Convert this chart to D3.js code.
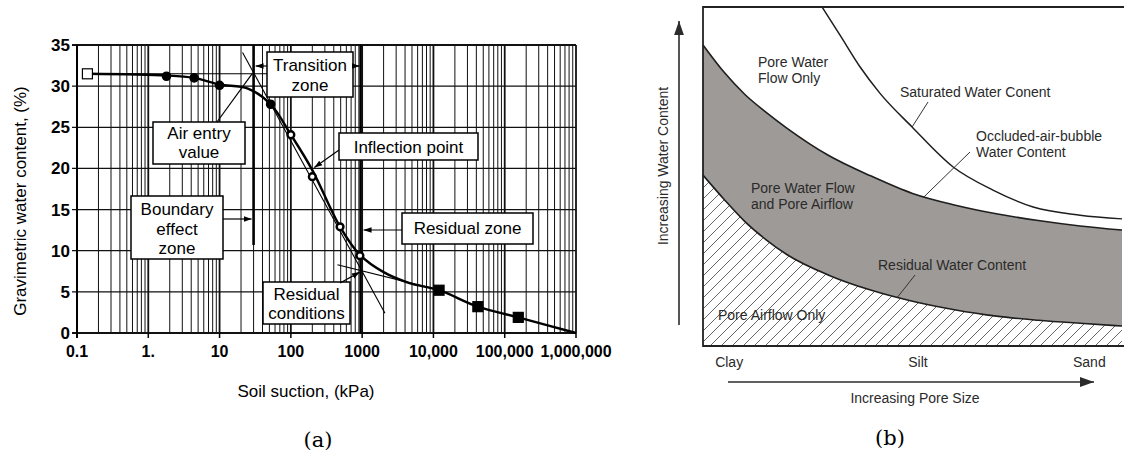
<!DOCTYPE html>
<html>
<head>
<meta charset="utf-8">
<script src="https://cdn.jsdelivr.net/npm/d3@7"></script>
<style>
  body { margin: 0; background: #fff; }
  svg { display: block; }
</style>
</head>
<body>
<svg id="chart" width="1124" height="455"></svg>
<script>
// ---------- panel (a): soil-water characteristic curve ----------
const suction      = [0.14, 1.8, 4.4, 10, 52, 100, 200, 490, 930, 12000, 42000, 155000];
const waterContent = [31.5, 31.2, 31.0, 30.1, 27.8, 24.1, 19.0, 12.9, 9.4, 5.2, 3.2, 1.9];
const markerType   = ["openSquare", "dot", "dot", "dot", "dot", "ring", "ring", "ring", "ring", "square", "square", "square"];

// drawn curve through the test points
const curveSuction = [0.14, 1.8, 4.4, 10, 25, 52, 100, 200, 490, 930, 2000, 4500, 12000, 42000, 155000, 1000000];
const curveWater   = [31.5, 31.3, 31.0, 30.2, 29.7, 27.8, 24.1, 19.8, 12.9, 9.5, 7.4, 6.1, 5.2, 3.2, 1.9, 0];

// construction (tangent) lines: [suction, water] pairs
const tangentSat      = [[0.14, 31.5], [60, 31.5]];
const tangentSteep    = [[21, 34.1], [2090, 2.4]];
const tangentResidual = [[450, 8.3], [11000, 5.3]];

const yTicks = [0, 5, 10, 15, 20, 25, 30, 35];
const xTickValues = [0.1, 1, 10, 100, 1000, 10000, 100000, 1000000];
const xTickLabels = ["0.1", "1.", "10", "100", "1000", "10,000", "100,000", "1,000,000"];

// ---------- panel (b): water content vs pore size ----------
const poreSize    = [0, 0.5, 1, 1.5, 2, 3, 4, 5, 6, 7, 8, 9, 10];
const occludedWC  = [8.88, 8.08, 7.42, 6.90, 6.43, 5.62, 5.02, 4.50, 4.16, 3.90, 3.70, 3.54, 3.42];
const residualWC  = [5.04, 4.33, 3.67, 3.14, 2.70, 2.09, 1.65, 1.32, 1.07, 0.88, 0.76, 0.67, 0.59];
const satPoreSize = [2.84, 3.27, 3.75, 4.22, 4.99, 5.97, 6.92, 7.88, 9.0, 10];
const saturatedWC = [10, 9.17, 8.23, 7.46, 6.46, 5.28, 4.60, 4.10, 3.86, 3.75];
const soilTypes   = ["Clay", "Silt", "Sand"];
const soilPos     = [0.29, 5.13, 8.83];
const soilAnchor  = ["start", "middle", "start"];

const svg = d3.select("#chart");
const defs = svg.append("defs");

function arrowMarker(id, size, color) {
  defs.append("marker")
    .attr("id", id)
    .attr("viewBox", "0 0 10 10")
    .attr("refX", 10).attr("refY", 5)
    .attr("markerWidth", size).attr("markerHeight", size)
    .attr("markerUnits", "userSpaceOnUse")
    .attr("orient", "auto")
    .append("path")
    .attr("d", "M0,1.5 L10,5 L0,8.5 Z")
    .attr("fill", color);
}
arrowMarker("arrA", 8, "#000");
arrowMarker("arrB", 14, "#2b2b2b");

// =============== PANEL A ===============
const x = d3.scaleLog().domain([0.1, 1e6]).range([77, 576]);
const y = d3.scaleLinear().domain([0, 35]).range([333, 45]);

const ga = svg.append("g").attr("class", "panel-a");

// vertical grid: every 1..9 x decade
let vLines = [];
for (let k = -1; k <= 5; k++) {
  for (let n = 1; n <= 9; n++) vLines.push({v: n * Math.pow(10, k), major: n === 1});
}
vLines.push({v: 1e6, major: true});

ga.append("g").selectAll("line")
  .data(vLines)
  .join("line")
  .attr("x1", d => x(d.v)).attr("x2", d => x(d.v))
  .attr("y1", y(35)).attr("y2", y(0))
  .attr("stroke", "#111")
  .attr("stroke-width", d => d.major ? 1.8 : 1);

ga.append("g").selectAll("line")
  .data(yTicks)
  .join("line")
  .attr("x1", x(0.1) - 5).attr("x2", x(1e6))
  .attr("y1", d => y(d)).attr("y2", d => y(d))
  .attr("stroke", "#111")
  .attr("stroke-width", d => d === 0 || d === 35 ? 2 : 1.3);

// left axis line
ga.append("line")
  .attr("x1", x(0.1)).attr("x2", x(0.1))
  .attr("y1", y(35)).attr("y2", y(0) + 5)
  .attr("stroke", "#000").attr("stroke-width", 2);

// x tick marks
ga.append("g").selectAll("line")
  .data(vLines.filter(d => d.major))
  .join("line")
  .attr("x1", d => x(d.v)).attr("x2", d => x(d.v))
  .attr("y1", y(0)).attr("y2", y(0) + 5)
  .attr("stroke", "#000").attr("stroke-width", 1.5);

// zone boundaries
ga.append("line")
  .attr("x1", x(30)).attr("x2", x(30))
  .attr("y1", y(35)).attr("y2", y(10.7))
  .attr("stroke", "#000").attr("stroke-width", 2.6);
ga.append("line")
  .attr("x1", x(950)).attr("x2", x(950))
  .attr("y1", y(35)).attr("y2", y(0))
  .attr("stroke", "#000").attr("stroke-width", 2.4);

// tick labels
ga.append("g").selectAll("text")
  .data(yTicks)
  .join("text")
  .attr("x", x(0.1) - 7).attr("y", d => y(d) + 6)
  .attr("text-anchor", "end")
  .style("font", "bold 17px 'Liberation Sans', Arial, sans-serif")
  .text(d => d);

ga.append("g").selectAll("text")
  .data(xTickValues)
  .join("text")
  .attr("x", d => x(d)).attr("y", 357)
  .attr("text-anchor", "middle")
  .style("font", "bold 16px 'Liberation Sans', Arial, sans-serif")
  .text((d, i) => xTickLabels[i]);

// axis titles
ga.append("text")
  .attr("x", 306).attr("y", 397)
  .attr("text-anchor", "middle")
  .style("font", "17px 'Liberation Sans', Arial, sans-serif")
  .text("Soil suction, (kPa)");

ga.append("text")
  .attr("transform", "translate(26,201) rotate(-90)")
  .attr("text-anchor", "middle")
  .style("font", "17px 'Liberation Sans', Arial, sans-serif")
  .text("Gravimetric water content, (%)");

// tangent lines
const seg = d3.line().x(d => x(d[0])).y(d => y(d[1]));
[tangentSat, tangentSteep, tangentResidual].forEach(t => {
  ga.append("path").attr("d", seg(t))
    .attr("fill", "none").attr("stroke", "#000").attr("stroke-width", 1.1);
});

// the curve
const curvePts = curveSuction.map((s, i) => [s, curveWater[i]]);
ga.append("path")
  .datum(curvePts)
  .attr("d", d3.line().x(d => x(d[0])).y(d => y(d[1])).curve(d3.curveCatmullRom))
  .attr("fill", "none").attr("stroke", "#000").attr("stroke-width", 2.4);

// markers
const pts = suction.map((s, i) => ({s: s, w: waterContent[i], t: markerType[i]}));
ga.append("g").selectAll("rect")
  .data(pts.filter(d => d.t === "openSquare" || d.t === "square"))
  .join("rect")
  .attr("x", d => x(d.s) - 5).attr("y", d => y(d.w) - 5)
  .attr("width", 10).attr("height", 10)
  .attr("fill", d => d.t === "square" ? "#000" : "#fff")
  .attr("stroke", "#000").attr("stroke-width", 1.2);
ga.append("g").selectAll("circle")
  .data(pts.filter(d => d.t === "dot" || d.t === "ring"))
  .join("circle")
  .attr("cx", d => x(d.s)).attr("cy", d => y(d.w))
  .attr("r", d => d.t === "dot" ? 4 : 3.4)
  .attr("fill", d => d.t === "dot" ? "#000" : "#fff")
  .attr("stroke", "#000").attr("stroke-width", d => d.t === "dot" ? 1.6 : 2.4);

// annotation boxes
const boxFont = "17px 'Liberation Sans', Arial, sans-serif";
function box(x0, y0, w, h, lines, baselines) {
  ga.append("rect")
    .attr("x", x0).attr("y", y0).attr("width", w).attr("height", h)
    .attr("fill", "#fff").attr("stroke", "#000").attr("stroke-width", 1.5);
  lines.forEach((t, i) => {
    ga.append("text")
      .attr("x", x0 + w / 2).attr("y", baselines[i])
      .attr("text-anchor", "middle")
      .style("font", boxFont)
      .text(t);
  });
}
function leader(x1, y1, x2, y2, arrow) {
  ga.append("line")
    .attr("x1", x1).attr("y1", y1).attr("x2", x2).attr("y2", y2)
    .attr("stroke", "#000").attr("stroke-width", 1.2)
    .attr("marker-end", arrow ? "url(#arrA)" : null);
}

box(153, 122, 92, 42, ["Air entry", "value"], [139, 158]);
leader(217, 122, x(28.5), y(31.5), false);

box(267, 52, 86, 45, ["Transition", "zone"], [71, 91]);
leader(267, 66, x(30) + 2, 66, true);
leader(353, 66, x(950) - 1, 66, true);

box(339, 133, 139, 27, ["Inflection point"], [153]);
leader(339, 150, x(200) + 2, y(20.1), true);

box(131, 196, 92, 63, ["Boundary", "effect", "zone"], [215, 235, 254]);
leader(223, 219, x(30) - 2, 219, true);

box(402, 213, 131, 31, ["Residual zone"], [234]);
leader(402, 230, x(950) + 3, 230, true);

box(263, 282, 87, 42, ["Residual", "conditions"], [300, 319]);
leader(340, 283, x(930), y(7.4), true);

svg.append("text")
  .attr("x", 318).attr("y", 447)
  .attr("text-anchor", "middle")
  .style("font", "21px 'DejaVu Serif', 'Liberation Serif', serif")
  .text("(a)");

// =============== PANEL B ===============
const xb = d3.scaleLinear().domain([0, 10]).range([703, 1122]);
const yb = d3.scaleLinear().domain([0, 10]).range([346, 7]);
const gb = svg.append("g").attr("class", "panel-b");

const pat = defs.append("pattern")
  .attr("id", "hatch")
  .attr("patternUnits", "userSpaceOnUse")
  .attr("width", 11).attr("height", 11);
pat.append("path")
  .attr("d", "M0,11 L11,0 M-3,3 L3,-3 M8,14 L14,8")
  .attr("stroke", "#555").attr("stroke-width", 0.9);

defs.append("clipPath").attr("id", "clipB")
  .append("rect")
  .attr("x", xb(0)).attr("y", yb(10))
  .attr("width", xb(10) - xb(0) + 2).attr("height", yb(0) - yb(10));

const bandData = poreSize.map((p, i) => ({p: p, top: occludedWC[i], bot: residualWC[i]}));
const smooth = d3.curveMonotoneX;

// hatched region (pore airflow only)
gb.append("path")
  .datum(bandData)
  .attr("d", d3.area().x(d => xb(d.p)).y0(yb(0)).y1(d => yb(d.bot)).curve(smooth))
  .attr("fill", "url(#hatch)");

// grey band
gb.append("path")
  .datum(bandData)
  .attr("d", d3.area().x(d => xb(d.p)).y0(d => yb(d.bot)).y1(d => yb(d.top)).curve(smooth))
  .attr("fill", "#9e9a97");

const lineB = d3.line().x(d => xb(d[0])).y(d => yb(d[1])).curve(smooth);
gb.append("path")
  .datum(poreSize.map((p, i) => [p, occludedWC[i]]))
  .attr("d", lineB).attr("fill", "none").attr("stroke", "#1e1e1e").attr("stroke-width", 1.6);
gb.append("path")
  .datum(poreSize.map((p, i) => [p, residualWC[i]]))
  .attr("d", lineB).attr("fill", "none").attr("stroke", "#1e1e1e").attr("stroke-width", 1.6);
gb.append("path")
  .datum(satPoreSize.map((p, i) => [p, saturatedWC[i]]))
  .attr("clip-path", "url(#clipB)")
  .attr("d", lineB).attr("fill", "none").attr("stroke", "#1e1e1e").attr("stroke-width", 1.5);

// frame (top, left, bottom)
gb.append("path")
  .attr("d", `M${xb(10) + 2},${yb(10)} H${xb(0)} V${yb(0)} H${xb(10) + 2}`)
  .attr("fill", "none").attr("stroke", "#222").attr("stroke-width", 1.8);

const bFont = "14px 'Liberation Sans', Arial, sans-serif";
const bColor = "#2a2a2a";
function labelB(px, py, txt, anchor) {
  gb.append("text")
    .attr("x", px).attr("y", py)
    .attr("text-anchor", anchor || "start")
    .attr("fill", bColor)
    .style("font", bFont)
    .text(txt);
}
function leaderB(x1, y1, x2, y2) {
  gb.append("line")
    .attr("x1", x1).attr("y1", y1).attr("x2", x2).attr("y2", y2)
    .attr("stroke", "#333").attr("stroke-width", 1);
}

labelB(758, 67, "Pore Water");
labelB(758, 83, "Flow Only");
labelB(900, 97, "Saturated Water Conent");
leaderB(928, 102, xb(4.99), yb(6.46));
labelB(976, 141, "Occluded-air-bubble");
labelB(976, 157, "Water Content");
leaderB(970, 152, xb(5.25), yb(4.37));
labelB(751, 193, "Pore Water Flow");
labelB(751, 209, "and Pore Airflow");
labelB(878, 270, "Residual Water Content");
leaderB(915, 275, xb(4.63), yb(1.42));
labelB(718, 320, "Pore Airflow Only");

gb.append("g").selectAll("text")
  .data(soilTypes)
  .join("text")
  .attr("x", (d, i) => xb(soilPos[i]))
  .attr("y", 367)
  .attr("text-anchor", (d, i) => soilAnchor[i])
  .attr("fill", bColor)
  .style("font", bFont)
  .text(d => d);

// axis arrows
gb.append("line")
  .attr("x1", 728).attr("y1", 382).attr("x2", 1094).attr("y2", 382)
  .attr("stroke", "#2b2b2b").attr("stroke-width", 1.6)
  .attr("marker-end", "url(#arrB)");
labelB(915, 403, "Increasing Pore Size", "middle");

gb.append("line")
  .attr("x1", 679).attr("y1", 325).attr("x2", 679).attr("y2", 21)
  .attr("stroke", "#2b2b2b").attr("stroke-width", 1.6)
  .attr("marker-end", "url(#arrB)");
gb.append("text")
  .attr("transform", "translate(668,166) rotate(-90)")
  .attr("text-anchor", "middle")
  .attr("fill", bColor)
  .style("font", bFont)
  .text("Increasing Water Content");

svg.append("text")
  .attr("x", 890).attr("y", 445)
  .attr("text-anchor", "middle")
  .style("font", "21px 'DejaVu Serif', 'Liberation Serif', serif")
  .text("(b)");
</script>
</body>
</html>
